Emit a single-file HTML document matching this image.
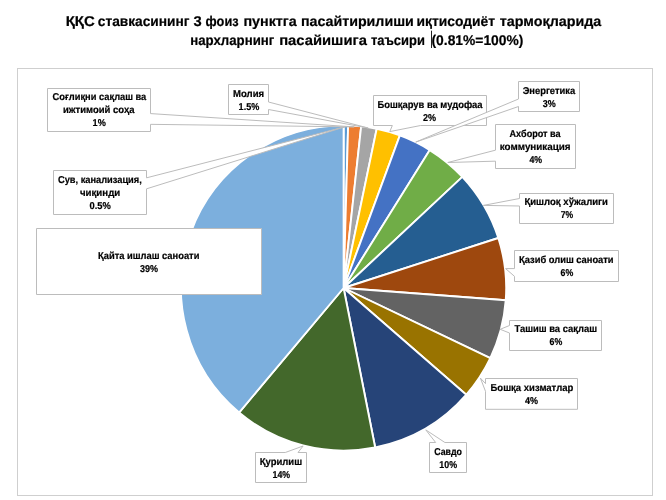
<!DOCTYPE html>
<html lang="uz"><head><meta charset="utf-8"><title>ҚҚС ставкаси</title>
<style>
html,body{margin:0;padding:0;background:#fff;}
body{width:666px;height:500px;overflow:hidden;}
svg{display:block;}
text{font-family:"Liberation Sans",sans-serif;font-weight:bold;fill:#000;text-rendering:geometricPrecision;stroke:#000;stroke-width:0.2px;}
.lb{font-size:10.0px;}
.tt{font-size:14.1px;}
</style></head><body>
<svg width="666" height="500" viewBox="0 0 666 500">
<rect x="0" y="0" width="666" height="500" fill="#fff"/>
<rect x="17.5" y="68.5" width="635" height="427" fill="#fff" stroke="#CFCFCF" stroke-width="1"/>
<g stroke="#fff" stroke-width="1.9" stroke-linejoin="round">
<path d="M343.60,288.00 L343.60,125.40 A162.6,162.6 0 0 1 348.14,125.46 Z" fill="#5B9BD5"/>
<path d="M343.60,288.00 L348.14,125.46 A162.6,162.6 0 0 1 361.16,126.35 Z" fill="#ED7D31"/>
<path d="M343.60,288.00 L361.16,126.35 A162.6,162.6 0 0 1 376.71,128.81 Z" fill="#A5A5A5"/>
<path d="M343.60,288.00 L376.71,128.81 A162.6,162.6 0 0 1 399.88,135.45 Z" fill="#FFC000"/>
<path d="M343.60,288.00 L399.88,135.45 A162.6,162.6 0 0 1 429.76,150.11 Z" fill="#4472C4"/>
<path d="M343.60,288.00 L429.76,150.11 A162.6,162.6 0 0 1 462.32,176.90 Z" fill="#70AD47"/>
<path d="M343.60,288.00 L462.32,176.90 A162.6,162.6 0 0 1 498.33,238.02 Z" fill="#255E91"/>
<path d="M343.60,288.00 L498.33,238.02 A162.6,162.6 0 0 1 505.74,300.19 Z" fill="#9E480E"/>
<path d="M343.60,288.00 L505.74,300.19 A162.6,162.6 0 0 1 490.30,358.13 Z" fill="#636363"/>
<path d="M343.60,288.00 L490.30,358.13 A162.6,162.6 0 0 1 466.32,394.68 Z" fill="#997300"/>
<path d="M343.60,288.00 L466.32,394.68 A162.6,162.6 0 0 1 375.18,447.50 Z" fill="#264478"/>
<path d="M343.60,288.00 L375.18,447.50 A162.6,162.6 0 0 1 239.08,412.56 Z" fill="#43682B"/>
<path d="M343.60,288.00 L239.08,412.56 A162.6,162.6 0 0 1 343.60,125.40 Z" fill="#7CAFDD"/>
</g>
<path d="M53.5,170.5 H146.5 V177.83 L345.7,126.6 L146.5,188.83 V214.5 H53.5 Z" fill="#fff" stroke="#BCBCBC" stroke-width="1" stroke-linejoin="miter"/>
<text x="58.0" y="183.00" textLength="83.8" lengthAdjust="spacingAndGlyphs" class="lb">Сув, канализация,</text>
<text x="80.0" y="196.05" textLength="40.2" lengthAdjust="spacingAndGlyphs" class="lb">чиқинди</text>
<text x="89.5" y="209.10" textLength="21.3" lengthAdjust="spacingAndGlyphs" class="lb">0.5%</text>
<path d="M47.5,88.5 H150.5 V113.58 L354.2,126.9 L150.5,124.33 V131.5 H47.5 Z" fill="#fff" stroke="#BCBCBC" stroke-width="1" stroke-linejoin="miter"/>
<text x="52.6" y="99.80" textLength="93.7" lengthAdjust="spacingAndGlyphs" class="lb">Соғлиқни сақлаш ва</text>
<text x="63.0" y="112.85" textLength="71.6" lengthAdjust="spacingAndGlyphs" class="lb">ижтимоий соҳа</text>
<text x="92.6" y="125.90" textLength="13.2" lengthAdjust="spacingAndGlyphs" class="lb">1%</text>
<path d="M228.5,84.5 H268.5 V102.00 L368.2,128.0 L268.5,109.50 V114.5 H228.5 Z" fill="#fff" stroke="#BCBCBC" stroke-width="1" stroke-linejoin="miter"/>
<text x="233.0" y="96.60" textLength="31.1" lengthAdjust="spacingAndGlyphs" class="lb">Молия</text>
<text x="238.6" y="109.65" textLength="20.7" lengthAdjust="spacingAndGlyphs" class="lb">1.5%</text>
<path d="M373.5,95.5 H486.5 V125.5 H420.58 L389.8,131.6 L392.33,125.5 H373.5 Z" fill="#fff" stroke="#BCBCBC" stroke-width="1" stroke-linejoin="miter"/>
<text x="377.4" y="108.20" textLength="105.2" lengthAdjust="spacingAndGlyphs" class="lb">Бошқарув ва мудофаа</text>
<text x="423.0" y="121.25" textLength="13.1" lengthAdjust="spacingAndGlyphs" class="lb">2%</text>
<path d="M518.5,81.5 H579.5 V111.5 H518.5 V106.50 L415.7,142.1 L518.5,99.00 Z" fill="#fff" stroke="#BCBCBC" stroke-width="1" stroke-linejoin="miter"/>
<text x="522.7" y="93.80" textLength="52.5" lengthAdjust="spacingAndGlyphs" class="lb">Энергетика</text>
<text x="542.7" y="106.85" textLength="13.0" lengthAdjust="spacingAndGlyphs" class="lb">3%</text>
<path d="M495.5,124.5 H575.5 V168.5 H495.5 V161.17 L447.8,162.5 L495.5,150.17 Z" fill="#fff" stroke="#BCBCBC" stroke-width="1" stroke-linejoin="miter"/>
<text x="509.5" y="137.00" textLength="51.1" lengthAdjust="spacingAndGlyphs" class="lb">Ахборот ва</text>
<text x="499.8" y="150.05" textLength="70.8" lengthAdjust="spacingAndGlyphs" class="lb">коммуникация</text>
<text x="529.4" y="163.10" textLength="12.7" lengthAdjust="spacingAndGlyphs" class="lb">4%</text>
<path d="M519.5,193.5 H613.5 V223.5 H519.5 V206.00 L483.4,205.4 L519.5,198.50 Z" fill="#fff" stroke="#BCBCBC" stroke-width="1" stroke-linejoin="miter"/>
<text x="524.4" y="205.10" textLength="83.6" lengthAdjust="spacingAndGlyphs" class="lb">Қишлоқ хўжалиги</text>
<text x="560.8" y="218.15" textLength="12.4" lengthAdjust="spacingAndGlyphs" class="lb">7%</text>
<path d="M514.5,250.5 H618.5 V281.5 H514.5 V276.33 L505.6,268.6 L514.5,268.58 Z" fill="#fff" stroke="#BCBCBC" stroke-width="1" stroke-linejoin="miter"/>
<text x="519.0" y="262.80" textLength="94.6" lengthAdjust="spacingAndGlyphs" class="lb">Қазиб олиш саноати</text>
<text x="560.5" y="275.85" textLength="12.7" lengthAdjust="spacingAndGlyphs" class="lb">6%</text>
<path d="M509.5,320.5 H601.5 V350.5 H509.5 V333.00 L500.2,329.3 L509.5,325.50 Z" fill="#fff" stroke="#BCBCBC" stroke-width="1" stroke-linejoin="miter"/>
<text x="514.4" y="332.30" textLength="82.6" lengthAdjust="spacingAndGlyphs" class="lb">Ташиш ва сақлаш</text>
<text x="549.5" y="345.35" textLength="12.7" lengthAdjust="spacingAndGlyphs" class="lb">6%</text>
<path d="M485.5,378.5 H577.5 V409.3 H485.5 V391.33 L480.4,378.1 L485.5,383.63 Z" fill="#fff" stroke="#BCBCBC" stroke-width="1" stroke-linejoin="miter"/>
<text x="490.5" y="391.20" textLength="82.8" lengthAdjust="spacingAndGlyphs" class="lb">Бошқа хизматлар</text>
<text x="525.0" y="404.25" textLength="13.0" lengthAdjust="spacingAndGlyphs" class="lb">4%</text>
<path d="M429.5,442.5 H435.67 L425.8,429.9 L444.92,442.5 H466.5 V472.5 H429.5 Z" fill="#fff" stroke="#BCBCBC" stroke-width="1" stroke-linejoin="miter"/>
<text x="434.2" y="455.10" textLength="27.8" lengthAdjust="spacingAndGlyphs" class="lb">Савдо</text>
<text x="439.3" y="468.15" textLength="17.8" lengthAdjust="spacingAndGlyphs" class="lb">10%</text>
<path d="M255.5,452.5 H285.25 L303.1,446.0 L298.00,452.5 H306.5 V482.5 H255.5 Z" fill="#fff" stroke="#BCBCBC" stroke-width="1" stroke-linejoin="miter"/>
<text x="259.7" y="464.80" textLength="42.4" lengthAdjust="spacingAndGlyphs" class="lb">Қурилиш</text>
<text x="272.5" y="477.85" textLength="17.6" lengthAdjust="spacingAndGlyphs" class="lb">14%</text>
<path d="M36.5,228.5 H261.5 V294.5 H36.5 Z" fill="#fff" stroke="#BCBCBC" stroke-width="1" stroke-linejoin="miter"/>
<text x="98.1" y="258.50" textLength="101.3" lengthAdjust="spacingAndGlyphs" class="lb">Қайта ишлаш саноати</text>
<text x="139.9" y="271.55" textLength="18.0" lengthAdjust="spacingAndGlyphs" class="lb">39%</text>
<text y="25.6" class="tt"><tspan x="65.8" textLength="28.9" lengthAdjust="spacingAndGlyphs">ҚҚС</tspan> <tspan x="97.8" textLength="91.7" lengthAdjust="spacingAndGlyphs">ставкасининг</tspan> <tspan x="193.6" textLength="8.2" lengthAdjust="spacingAndGlyphs">3</tspan> <tspan x="205.6" textLength="33.0" lengthAdjust="spacingAndGlyphs">фоиз</tspan> <tspan x="243.4" textLength="53.4" lengthAdjust="spacingAndGlyphs">пунктга</tspan> <tspan x="300.9" textLength="112.9" lengthAdjust="spacingAndGlyphs">пасайтирилиши</tspan> <tspan x="416.5" textLength="78.5" lengthAdjust="spacingAndGlyphs">иқтисодиёт</tspan> <tspan x="499.8" textLength="101.5" lengthAdjust="spacingAndGlyphs">тармоқларида</tspan></text>
<text y="45.1" class="tt"><tspan x="190.2" textLength="84.1" lengthAdjust="spacingAndGlyphs">нархларнинг</tspan> <tspan x="279.2" textLength="87.7" lengthAdjust="spacingAndGlyphs">пасайишига</tspan> <tspan x="370.9" textLength="54.0" lengthAdjust="spacingAndGlyphs">таъсири</tspan> <tspan x="431.5" textLength="91.9" lengthAdjust="spacingAndGlyphs">(0.81%=100%)</tspan></text>
<line x1="431.5" y1="30.7" x2="431.5" y2="48" stroke="#222" stroke-width="1"/>
</svg>
</body></html>
